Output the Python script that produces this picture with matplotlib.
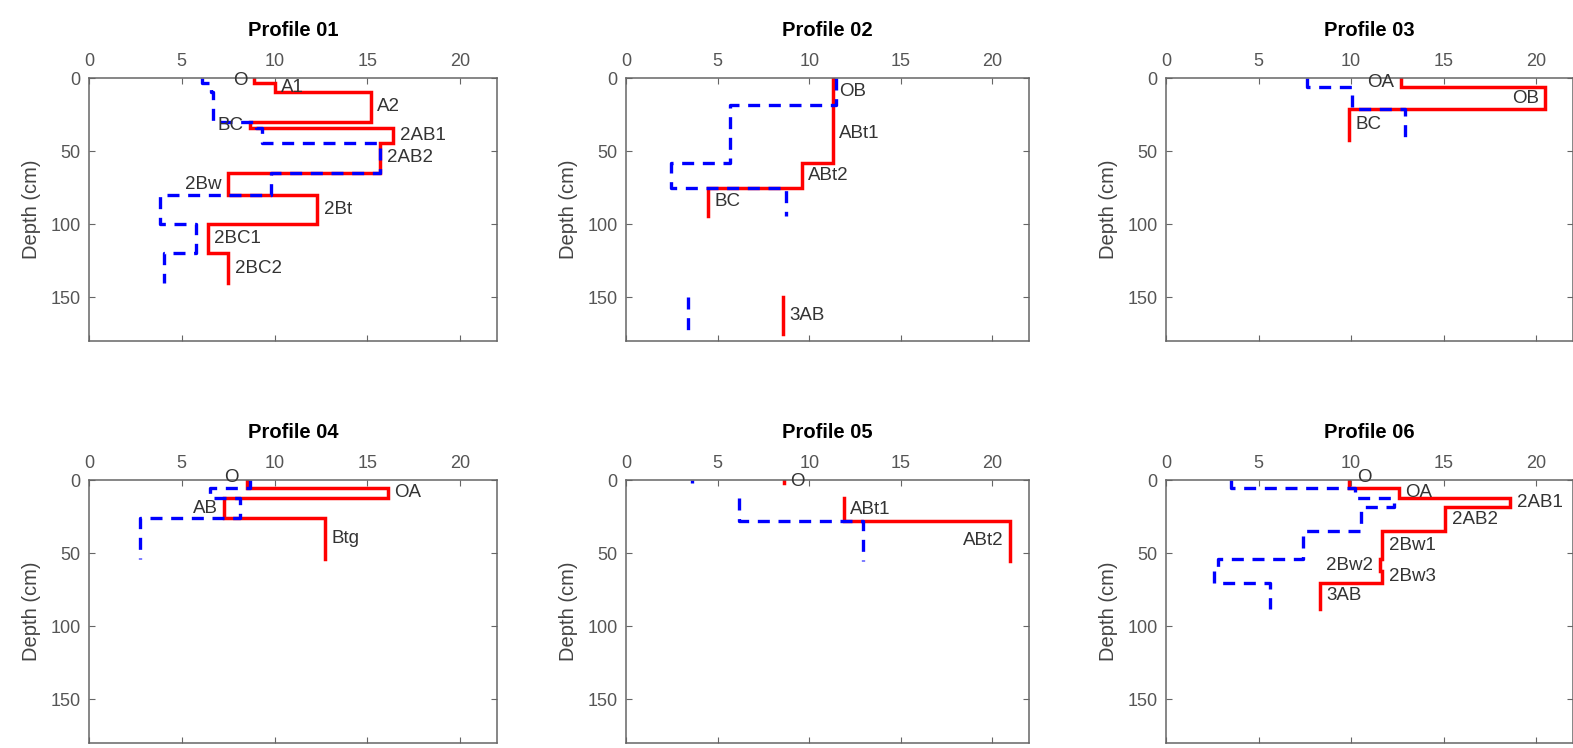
import numpy as np
import matplotlib
matplotlib.use("Agg")
import matplotlib.pyplot as plt

plt.rcParams['font.family'] = ['Liberation Sans', 'DejaVu Sans']

# horizon names, top/bottom depth (cm), solid (red) and dashed (blue) values
# side: where the horizon label sits ('r'/'l' right/left of red, 'tl'/'tr' above the frame)
p01_hz = ['O', 'A1', 'A2', 'BC', '2AB1', '2AB2', '2Bw', '2Bt', '2BC1', '2BC2']
p01_top = [0, 3, 9, 30, 34, 44, 65, 80, 100, 120]
p01_bot = [3, 9, 30, 34, 44, 65, 80, 100, 120, 140]
p01_red = [8.9, 10.0, 15.2, 8.7, 16.4, 15.7, 7.5, 12.3, 6.4, 7.5]
p01_blue = [6.1, 6.6, 6.7, 9.0, 9.3, 15.7, 9.8, 3.8, 5.75, 4.05]
p01_side = ['l', 'r', 'r', 'l', 'r', 'r', 'l', 'r', 'r', 'r']

p02_hz = ['OB', 'ABt1', 'ABt2', 'BC', '3AB']
p02_top = [0, 18, 58, 75, 150]
p02_bot = [18, 58, 75, 94, 175]
p02_red = [11.3, 11.3, 9.6, 4.5, 8.55]
p02_blue = [11.45, 5.7, 2.45, 8.75, 3.4]
p02_side = ['r', 'r', 'r', 'r', 'r']

p03_hz = ['OA', 'OB', 'BC']
p03_top = [0, 6, 21]
p03_bot = [6, 21, 42]
p03_red = [12.7, 20.5, 9.9]
p03_blue = [7.6, 10.05, 12.9]
p03_side = ['l', 'l', 'r']

p04_hz = ['O', 'OA', 'AB', 'Btg']
p04_top = [0, 5, 12, 26]
p04_bot = [5, 12, 26, 54]
p04_red = [8.5, 16.1, 7.3, 12.7]
p04_blue = [8.7, 6.5, 8.15, 2.75]
p04_side = ['tl', 'r', 'l', 'r']

p05_hz = ['O', 'ABt1', 'ABt2']
p05_top = [0, 12, 28]
p05_bot = [2, 28, 55]
p05_red = [8.6, 11.9, 20.95]
p05_blue = [3.6, 6.15, 12.95]
p05_side = ['r', 'r', 'l']

p06_hz = ['O', 'OA', '2AB1', '2AB2', '2Bw1', '2Bw2', '2Bw3', '3AB']
p06_top = [0, 5, 12, 18, 35, 54, 62, 70]
p06_bot = [5, 12, 18, 35, 54, 62, 70, 88]
p06_red = [9.9, 12.6, 18.6, 15.1, 11.7, 11.55, 11.7, 8.3]
p06_blue = [3.5, 10.2, 12.3, 10.55, 7.4, 2.8, 2.6, 5.6]
p06_side = ['tr', 'r', 'r', 'r', 'r', 'l', 'r', 'r']

profiles = [
    ('Profile 01', p01_hz, p01_top, p01_bot, p01_red, p01_blue, p01_side),
    ('Profile 02', p02_hz, p02_top, p02_bot, p02_red, p02_blue, p02_side),
    ('Profile 03', p03_hz, p03_top, p03_bot, p03_red, p03_blue, p03_side),
    ('Profile 04', p04_hz, p04_top, p04_bot, p04_red, p04_blue, p04_side),
    ('Profile 05', p05_hz, p05_top, p05_bot, p05_red, p05_blue, p05_side),
    ('Profile 06', p06_hz, p06_top, p06_bot, p06_red, p06_blue, p06_side),
]


def step_path(tops, bots, vals):
    # vertical segment per horizon, horizontal joins at shared boundaries
    xs, ys = [], []
    for i in range(len(vals)):
        if i > 0 and tops[i] != bots[i - 1]:
            xs.append(np.nan)
            ys.append(np.nan)
        xs += [vals[i], vals[i]]
        ys += [tops[i], bots[i]]
    return xs, ys


fig = plt.figure(figsize=(15.73, 7.48), dpi=100)

lefts = [0.0566, 0.398, 0.7413]
widths = [0.2594, 0.2562, 0.2587]
bottoms = [0.5441, 0.0067]
height = 0.3510

for k, (title, hz, top, bot, red, blue, side) in enumerate(profiles):
    r, c = divmod(k, 3)
    ax = fig.add_axes([lefts[c], bottoms[r], widths[c], height])

    x, y = step_path(top, bot, red)
    ax.plot(x, y, '-', color='#ff0000', lw=2.5, solid_joinstyle='miter')
    x, y = step_path(top, bot, blue)
    ax.plot(x, y, '--', color='#0000ff', lw=2.4, dashes=(3.6, 2.6))

    off = 0.35
    for name, t, b, v, s in zip(hz, top, bot, red, side):
        mid = (t + b) / 2.0
        if s == 'r':
            ax.text(v + off, mid, name, ha='left', va='center', fontsize=13.5, color='#333333')
        elif s == 'l':
            ax.text(v - off, mid, name, ha='right', va='center', fontsize=13.5, color='#333333')
        else:
            dx = -0.8 if s == 'tl' else 0.8
            ax.text(v + dx, -1.8, name, ha='center', va='center', fontsize=13.5,
                    color='#333333', clip_on=False)

    ax.set_xlim(0, 22)
    ax.set_ylim(180, 0)
    ax.set_xticks([0, 5, 10, 15, 20])
    ax.set_yticks([0, 50, 100, 150])
    ax.xaxis.tick_top()
    ax.tick_params(direction='in', length=4, width=0.8, top=True, bottom=True,
                   left=True, right=True, labeltop=True, labelbottom=False,
                   labelsize=13, labelcolor='#555555', color='#666666', pad=6)
    for sp in ax.spines.values():
        sp.set_color('#666666')
        sp.set_linewidth(1.1)
    ax.set_ylabel('Depth (cm)', fontsize=14.5, color='#444444', labelpad=7)
    ax.set_title(title, fontsize=14.5, fontweight='bold', pad=12)

fig.savefig('out.png', dpi=100)
